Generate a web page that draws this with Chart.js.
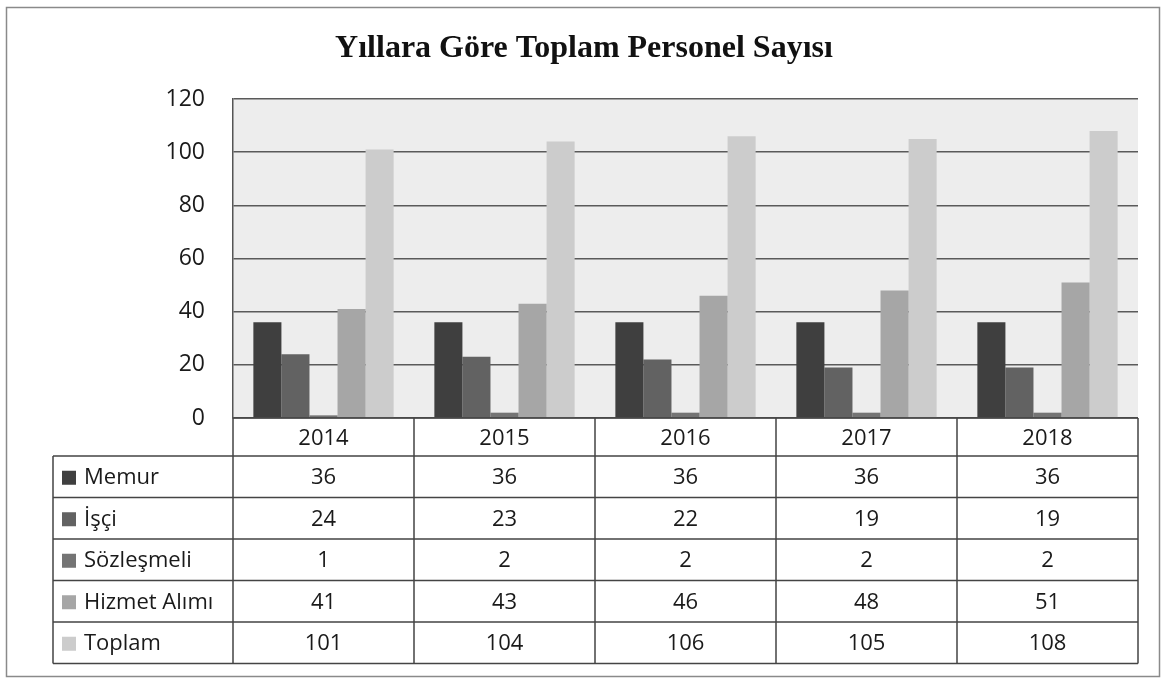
<!DOCTYPE html>
<html>
<head>
<meta charset="utf-8">
<script src="https://cdn.jsdelivr.net/npm/chart.js@4"></script>
<style>
  html, body { margin: 0; padding: 0; background: #fff; }
  #wrap { width: 1168px; height: 681px; }
</style>
</head>
<body>
<div id="wrap"><canvas id="personelChart" width="1168" height="681"></canvas></div>
<script>
// Data
const years = ['2014', '2015', '2016', '2017', '2018'];
const memur = [36, 36, 36, 36, 36];
const isci = [24, 23, 22, 19, 19];
const sozlesmeli = [1, 2, 2, 2, 2];
const hizmetAlimi = [41, 43, 46, 48, 51];
const toplam = [101, 104, 106, 105, 108];
const seriesNames = ['Memur', 'İşçi', 'Sözleşmeli', 'Hizmet Alımı', 'Toplam'];
const seriesColors = ['#3f3f3f', '#626262', '#747474', '#a6a6a6', '#cccccc'];
const yMin = 0, yMax = 120, yStep = 20;

const FONT = "'Open Sans', sans-serif";
const allSeries = [memur, isci, sozlesmeli, hizmetAlimi, toplam];

// Light gray plot background + outer frame
const backgroundPlugin = {
    id: 'background',
    beforeDraw(chart) {
        const { ctx, chartArea: a } = chart;
        ctx.save();
        ctx.fillStyle = '#ededed';
        ctx.fillRect(a.left, a.top, a.right - a.left, a.bottom - a.top);
        ctx.strokeStyle = '#8a8a8a';
        ctx.lineWidth = 1.5;
        ctx.strokeRect(6.5, 7.5, 1153, 669);
        ctx.restore();
    }
};

// Excel-style data table under the plot
const dataTablePlugin = {
    id: 'dataTable',
    afterDraw(chart) {
        const { ctx, chartArea: a, scales: { x } } = chart;
        const colW = (a.right - a.left) / years.length;
        const headerTop = a.bottom;
        const headerH = 38;
        const rowH = 41.5;
        const legendLeft = 53;
        const tableBottom = headerTop + headerH + rowH * seriesNames.length;

        ctx.save();
        ctx.strokeStyle = '#444';
        ctx.lineWidth = 1.5;

        // vertical lines
        ctx.beginPath();
        for (let i = 0; i <= years.length; i++) {
            const xx = a.left + i * colW;
            ctx.moveTo(xx, headerTop);
            ctx.lineTo(xx, tableBottom);
        }
        ctx.moveTo(legendLeft, headerTop + headerH);
        ctx.lineTo(legendLeft, tableBottom);
        // horizontal lines
        ctx.moveTo(a.left, headerTop);
        ctx.lineTo(a.right, headerTop);
        for (let r = 0; r <= seriesNames.length; r++) {
            const yy = headerTop + headerH + r * rowH;
            ctx.moveTo(legendLeft, yy);
            ctx.lineTo(a.right, yy);
        }
        ctx.stroke();

        ctx.fillStyle = '#1a1a1a';
        ctx.font = '22px ' + FONT;
        ctx.textBaseline = 'middle';
        ctx.textAlign = 'center';
        years.forEach((yr, i) => {
            ctx.fillText(yr, x.getPixelForValue(i), headerTop + headerH / 2 + 2);
        });

        seriesNames.forEach((name, r) => {
            const cy = headerTop + headerH + r * rowH + rowH / 2 + 1;
            ctx.fillStyle = seriesColors[r];
            ctx.fillRect(legendLeft + 9, cy - 7, 14, 14);
            ctx.fillStyle = '#1a1a1a';
            ctx.textAlign = 'left';
            ctx.fillText(name, legendLeft + 31, cy);
            ctx.textAlign = 'center';
            allSeries[r].forEach((v, i) => {
                ctx.fillText(String(v), x.getPixelForValue(i), cy);
            });
        });
        ctx.restore();
    }
};

const ctx = document.getElementById('personelChart').getContext('2d');
new Chart(ctx, {
    type: 'bar',
    data: {
        labels: years,
        datasets: seriesNames.map((name, i) => ({
            label: name,
            data: allSeries[i],
            backgroundColor: seriesColors[i],
            borderWidth: 0,
            categoryPercentage: 0.775,
            barPercentage: 1.0
        }))
    },
    options: {
        responsive: false,
        animation: false,
        devicePixelRatio: 1,
        layout: {
            padding: { top: 0, left: 30, right: 30, bottom: 263 }
        },
        plugins: {
            legend: { display: false },
            tooltip: { enabled: false },
            title: {
                display: true,
                text: 'Yıllara Göre Toplam Personel Sayısı',
                color: '#111',
                font: { family: "'Liberation Serif', 'Times New Roman', serif", size: 32, weight: 'bold' },
                padding: { top: 30, bottom: 30.6 }
            }
        },
        scales: {
            x: {
                display: false
            },
            y: {
                min: yMin,
                max: yMax,
                afterFit(scale) { scale.width = 203; },
                border: { display: true, color: '#555', width: 1.5 },
                grid: { color: '#5a5a5a', lineWidth: 1.5, drawTicks: false },
                ticks: {
                    stepSize: yStep,
                    padding: 28,
                    color: '#1a1a1a',
                    font: { family: FONT, size: 23 }
                }
            }
        }
    },
    plugins: [backgroundPlugin, dataTablePlugin]
});
</script>
</body>
</html>
